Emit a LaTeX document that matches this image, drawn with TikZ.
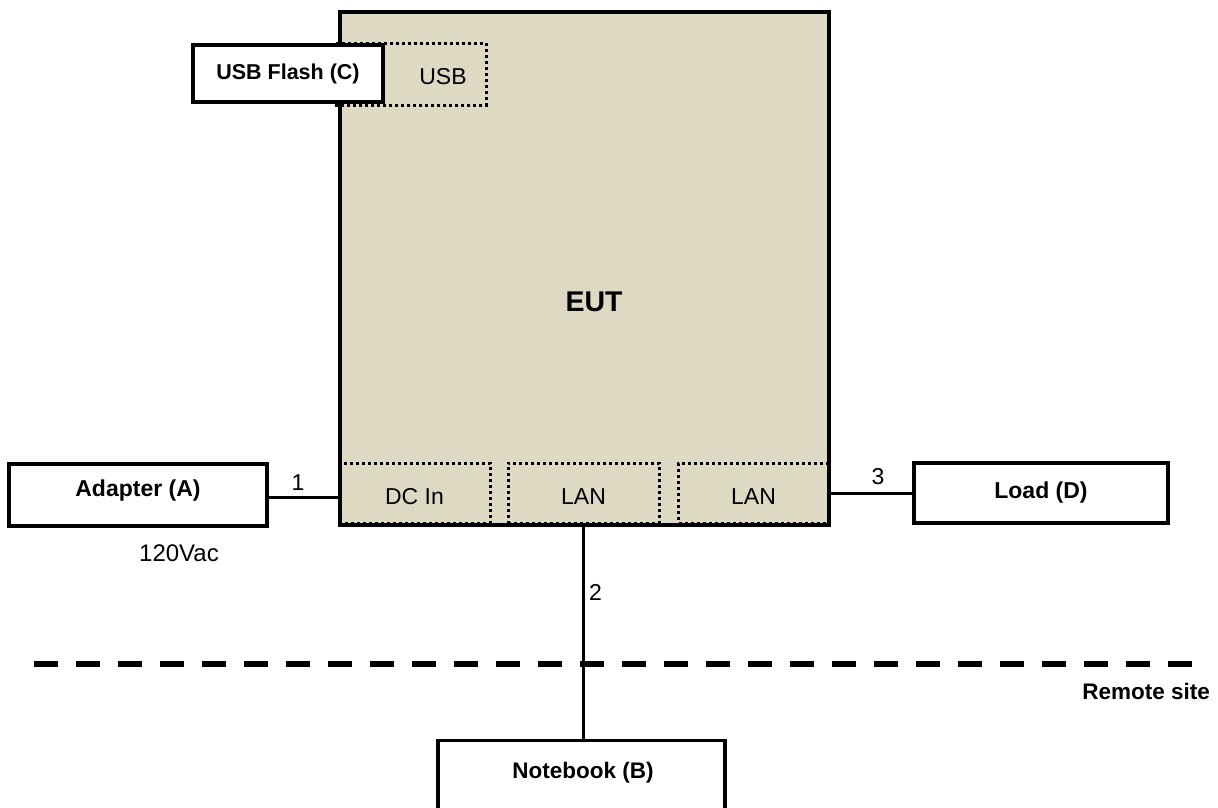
\documentclass[tikz,border=0pt]{standalone}
\usepackage{fontspec}
\setmainfont{Liberation Sans}
\usetikzlibrary{positioning}
\definecolor{eutfill}{HTML}{DDD9C3}

\begin{document}
\begin{tikzpicture}[
  x=1pt, y=-1pt,
  box/.style={rectangle, draw=black, fill=white, line width=3.2pt, inner sep=0pt,
    font=\fontsize{23}{27}\selectfont\bfseries},
  port/.style={rectangle, draw=black, line width=3pt, dash pattern=on 3pt off 3pt,
    inner sep=0pt, minimum height=60},
  ptxt/.style={font=\fontsize{23}{27}\selectfont, inner sep=0pt},
  cable/.style={black, line width=3pt},
  num/.style={font=\fontsize{23}{27}\selectfont, inner sep=2pt},
]
\useasboundingbox (0,0) rectangle (1218,807);

% ---- equipment under test ----
\node[box, fill=eutfill, minimum width=489, minimum height=513] (eut) at (584.5,268.5) {};
\node[font=\fontsize{28.5}{32}\selectfont\bfseries, inner sep=0pt] (eutlbl) at (594,302) {EUT};

% ---- ports on the EUT ----
\node[port, minimum width=151, minimum height=62] (usb) at (410.5,74) {};
\node[ptxt] (usbtxt) at (443,77) {USB};
\node[port, minimum width=151] (dcin) at (414.5,493) {};
\node[port, minimum width=151] (lana) at (583.5,493) {};
\node[port, minimum width=150] (lanb) at (753.5,493) {};
\foreach \p/\t in {dcin/DC In, lana/LAN, lanb/LAN} {
  \node[ptxt] at ([yshift=-4]\p.center) {\t};
}

% ---- support units ----
\node[box, minimum width=190, minimum height=57, font=\fontsize{21.5}{25}\selectfont\bfseries]
  (flash) at (288,73.5) {USB Flash (C)};
\node[box, minimum width=258, minimum height=62] (adapter) at (138,495) {};
\node[font=\fontsize{23}{27}\selectfont\bfseries, inner sep=0pt] (adaptertxt) at (138,491) {Adapter (A)};
\node[box, minimum width=254, minimum height=60] (load) at (1041,493) {Load (D)};
\node[box, anchor=north, minimum width=287, minimum height=110] (notebook) at (581.5,739) {};
\node[font=\fontsize{22.5}{26}\selectfont\bfseries, inner sep=0pt] (notebooktxt) at (583,773) {Notebook (B)};
\node[ptxt, font=\fontsize{24}{28}\selectfont] (vac) at (179,553) {120Vac};

% ---- cables ----
\draw[cable] (adapter.east |- 0,497) -- (eut.west |- 0,497)
  node[num, above, pos=0.42, yshift=3] {1};
\draw[cable] (eut.south -| lana) -- (lana |- notebook.north)
  node[num, right, pos=0.31, xshift=2] {2};
\draw[cable] (eut.east |- load) -- (load.west)
  node[num, above, pos=0.58, yshift=5] {3};

% ---- remote site border ----
\draw[black, line width=6pt, dash pattern=on 24pt off 18pt] (34,664) -- (1193,664);
\node[anchor=east, font=\fontsize{22.5}{26}\selectfont\bfseries, inner sep=0pt] (remote) at (1210,691) {Remote site};

\end{tikzpicture}
\end{document}
